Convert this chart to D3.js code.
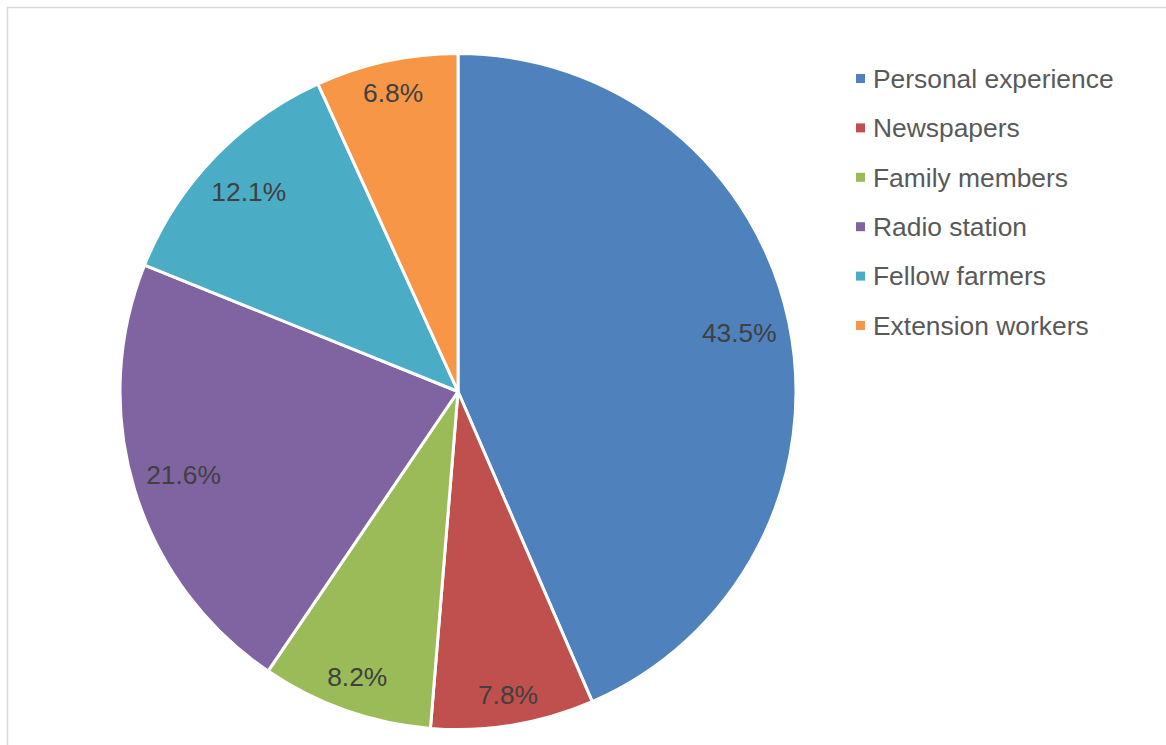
<!DOCTYPE html>
<html>
<head>
<meta charset="utf-8">
<script src="https://cdn.jsdelivr.net/npm/d3@7"></script>
<style>
  body { margin: 0; background: #fff; }
  text { font-family: "Liberation Sans", Arial, sans-serif; }
</style>
</head>
<body>
<script>
// information sources, share of respondents (%)
var sources = ["Personal experience", "Newspapers", "Family members", "Radio station", "Fellow farmers", "Extension workers"]
var shares = [43.5, 7.8, 8.2, 21.6, 12.1, 6.8]
var colours = ["#4F81BD", "#C0504D", "#9BBB59", "#8064A2", "#4BACC6", "#F79646"]

var width = 1166,
  height = 745,
  cx = 458,
  cy = 391.5,
  radius = 338;

var svg = d3.select("body").append("svg")
    .attr("width", width)
    .attr("height", height);

// chart area border (only top and left are in frame)
svg.append("rect")
    .attr("x", 7.5)
    .attr("y", 7.5)
    .attr("width", 1300)
    .attr("height", 900)
    .attr("fill", "none")
    .attr("stroke", "#d9d9d9")
    .attr("stroke-width", 1.5);

var pie = d3.pie().sort(null).value(function(d) { return d; });
var arc = d3.arc().innerRadius(0).outerRadius(radius);
var arcs = pie(shares);

var g = svg.append("g")
    .attr("transform", "translate(" + cx + "," + cy + ")");

g.selectAll("path")
    .data(arcs)
    .enter()
    .append("path")
    .attr("d", arc)
    .attr("fill", function(d, i) { return colours[i]; })
    .attr("stroke", "#fff")
    .attr("stroke-width", 3)
    .attr("stroke-linejoin", "round");

// data labels, placed inside the end of each slice
var labels = g.selectAll("text.label")
    .data(arcs)
    .enter()
    .append("text")
    .attr("class", "label")
    .attr("text-anchor", "middle")
    .attr("dy", "0.35em")
    .attr("font-size", "26.4px")
    .attr("fill", "#404040")
    .text(function(d) { return d.value.toFixed(1) + "%"; });

labels.each(function(d) {
  var w = this.getComputedTextLength();
  var a = (d.startAngle + d.endAngle) / 2;
  var ux = Math.sin(a), uy = -Math.cos(a);
  var support = Math.abs(ux) * w / 2 + Math.abs(uy) * 15;
  var dist = 327 - support;
  d3.select(this)
    .attr("x", ux * dist)
    .attr("y", uy * dist);
});

// legend
var legend = svg.append("g")
    .attr("transform", "translate(856,78.5)");

var rows = legend.selectAll("g")
    .data(sources)
    .enter()
    .append("g")
    .attr("transform", function(d, i) { return "translate(0," + (i * 49.4) + ")"; });

rows.append("rect")
    .attr("x", 0)
    .attr("y", -4.5)
    .attr("width", 9)
    .attr("height", 9)
    .attr("fill", function(d, i) { return colours[i]; });

rows.append("text")
    .attr("x", 17)
    .attr("dy", "0.35em")
    .attr("font-size", "26.4px")
    .attr("fill", "#595959")
    .text(function(d) { return d; });
</script>
</body>
</html>
